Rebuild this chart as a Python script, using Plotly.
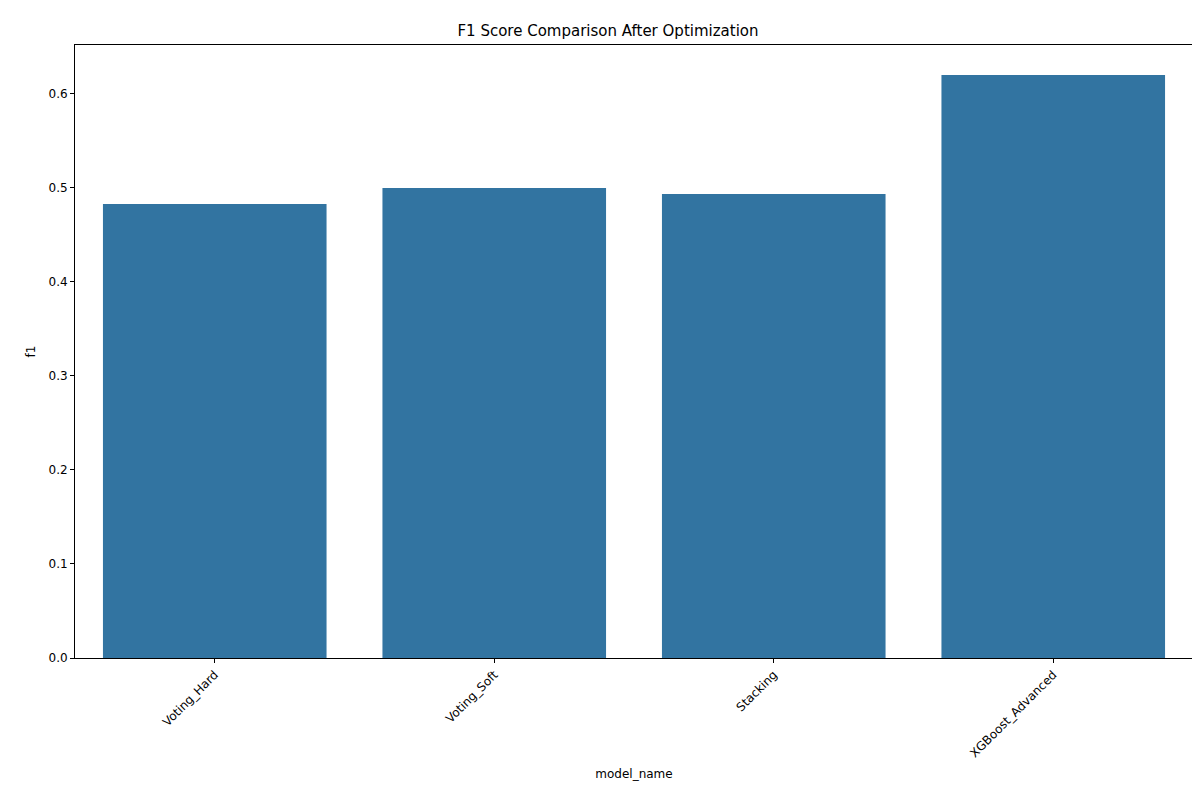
import plotly.graph_objects as go

model_names = ["Voting_Hard", "Voting_Soft", "Stacking", "XGBoost_Advanced"]
f1_scores = [0.483, 0.500, 0.4935, 0.620]

fig = go.Figure()
fig.add_trace(go.Bar(x=model_names, y=f1_scores, marker_color="#3274a1",
                     marker_line_width=0, width=0.8))

axis_style = dict(showline=True, linecolor="black", linewidth=1, mirror=True,
                  ticks="outside", ticklen=4, tickcolor="black", showgrid=False,
                  zeroline=False, tickfont=dict(size=12, color="black"))

fig.update_layout(
    width=1200, height=800,
    margin=dict(l=67, r=15, t=37, b=150),
    plot_bgcolor="white", paper_bgcolor="white",
    font=dict(family="DejaVu Sans", color="black"),
    title=dict(text="F1 Score Comparison After Optimization", x=0.5, xanchor="center",
               y=1 - 23 / 800, yanchor="middle", font=dict(size=15)),
    xaxis=dict(axis_style, range=[-0.5, 3.5], tickangle=-45,
               title=dict(text="model_name", font=dict(size=12), standoff=10)),
    yaxis=dict(axis_style, range=[0, 0.652], tickvals=[0, 0.1, 0.2, 0.3, 0.4, 0.5, 0.6],
               tickformat=".1f",
               title=dict(text="f1", font=dict(size=12), standoff=10)),
    showlegend=False,
)

fig.write_html("out.html")
